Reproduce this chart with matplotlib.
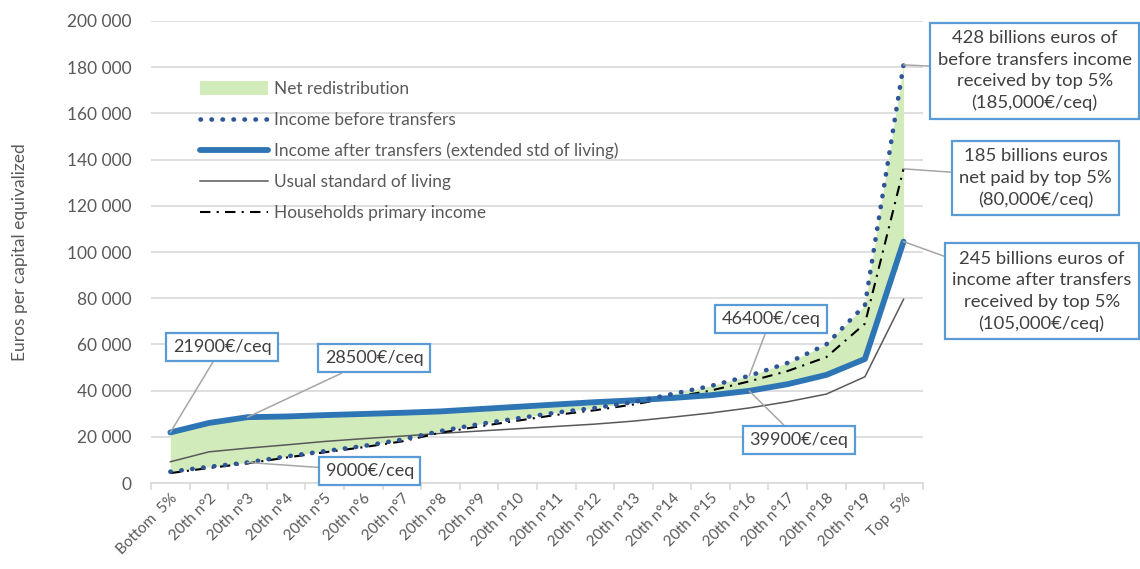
import matplotlib
matplotlib.use('Agg')
import matplotlib.pyplot as plt
import matplotlib.ticker as mticker
from matplotlib.patches import Patch
from matplotlib.lines import Line2D

plt.rcParams['font.family'] = ['Lato', 'DejaVu Sans']

grey_text = '#595959'
grid_grey = '#d9d9d9'
box_blue = '#5b9bd5'
leader_grey = '#a6a6a6'

categories = ['Bottom  5%'] + [f'20th n°{i}' for i in range(2, 20)] + ['Top  5%']

# values (euros per capita equivalized)
before_transfers = [4900, 7000, 8900, 11500, 13800, 16000, 18800, 22500, 25500, 28000,
                    30500, 32500, 35000, 38500, 42000, 46400, 52000, 60000, 77000, 181000]
after_transfers = [21900, 26000, 28500, 28800, 29400, 29900, 30400, 31000, 32000, 33000,
                   34000, 35000, 35800, 36800, 38000, 39900, 42800, 46800, 53700, 104500]
usual_std = [9200, 13500, 15100, 16500, 18000, 19200, 20300, 21500, 22500, 23500,
             24500, 25500, 26800, 28500, 30300, 32500, 35200, 38500, 46000, 79500]
primary_income = [4300, 6500, 8500, 11000, 13300, 15500, 18000, 21800, 24500, 27000,
                  29500, 31500, 34000, 37000, 40000, 44000, 48500, 54500, 69000, 136000]

x = list(range(len(categories)))

fig = plt.figure(figsize=(11.4, 5.69), dpi=100)
ax = fig.add_axes([0.1325, 0.1511, 0.677, 0.812])

green_fill = '#d2ebbb'
ax.fill_between(x, before_transfers, after_transfers, color=green_fill, lw=0, zorder=1)
ax.plot(x, usual_std, color=grey_text, lw=1.1, zorder=2)
ax.plot(x, primary_income, color='black', lw=1.5, linestyle=(0, (5, 3, 1, 3)), zorder=3)
ax.plot(x, after_transfers, color='#2e75b6', lw=4.2, solid_capstyle='round',
        solid_joinstyle='round', zorder=4)
ax.plot(x, before_transfers, color='#2f5597', lw=3.3, linestyle=(0, (0.1, 2.3)),
        dash_capstyle='round', zorder=5)

ax.set_xlim(-0.5, len(categories) - 0.5)
ax.set_ylim(0, 200000)
ax.yaxis.set_major_locator(mticker.MultipleLocator(20000))
ax.yaxis.set_major_formatter(mticker.FuncFormatter(lambda v, p: f'{v:,.0f}'.replace(',', ' ')))
ax.grid(axis='y', color=grid_grey, lw=1.2, zorder=0)
ax.set_axisbelow(True)
for key in 'left', 'right', 'top':
    ax.spines[key].set_visible(False)
ax.spines['bottom'].set_color(grid_grey)
ax.spines['bottom'].set_linewidth(1.2)

ax.set_xticks(x)
ax.set_xticklabels(categories, rotation=45, ha='right', rotation_mode='anchor')
ax.set_xticks([i - 0.5 for i in range(len(categories) + 1)], minor=True)
ax.tick_params(axis='x', which='major', length=0, pad=6, labelsize=11, labelcolor=grey_text)
ax.tick_params(axis='x', which='minor', length=5, width=1.2, color=grid_grey)
ax.tick_params(axis='y', length=0, pad=14, labelsize=12.5, labelcolor=grey_text)
ax.set_ylabel('Euros per capital equivalized', fontsize=12.5, color=grey_text, labelpad=28)

handles = [Patch(facecolor=green_fill, edgecolor='none'),
           Line2D([], [], color='#2f5597', lw=3.3, linestyle=(0, (0.1, 2.3)), dash_capstyle='round'),
           Line2D([], [], color='#2e75b6', lw=4.2, solid_capstyle='round'),
           Line2D([], [], color=grey_text, lw=1.1),
           Line2D([], [], color='black', lw=1.5, linestyle=(0, (5, 3, 1, 3)))]
labels = ['Net redistribution', 'Income before transfers',
          'Income after transfers (extended std of living)',
          'Usual standard of living', 'Households primary income']
leg = ax.legend(handles, labels, loc='upper left', bbox_to_anchor=(0.055, 0.885),
                frameon=False, fontsize=12.4, handlelength=3.9, handleheight=0.8,
                handletextpad=0.35, labelspacing=0.86, borderaxespad=0)
for t in leg.get_texts():
    t.set_color(grey_text)

arrow = dict(arrowstyle='-', color=leader_grey, lw=1.1, shrinkA=0, shrinkB=0)

def callout(text, idx, series, tx, ty, size=13, pad=0.35, spacing=1.22):
    box = dict(boxstyle=f'square,pad={pad}', fc='white', ec=box_blue, lw=1.6)
    ax.annotate(text, xy=(idx, series[idx]), xytext=(tx, ty), textcoords='data',
                ha='center', va='center', fontsize=size, color='#404040',
                multialignment='center', linespacing=spacing,
                bbox=box, arrowprops=arrow, annotation_clip=False, zorder=10)

callout('21900€/ceq', 0, after_transfers, 1.34, 58900)
callout('28500€/ceq', 2, after_transfers, 5.28, 54100)
callout('9000€/ceq', 2, before_transfers, 5.17, 5200)
callout('46400€/ceq', 15, before_transfers, 15.56, 71000)
callout('39900€/ceq', 15, after_transfers, 16.29, 18600)
callout('428 billions euros of\nbefore transfers income\nreceived by top 5%\n(185,000€/ceq)',
        19, before_transfers, 22.4, 178400, size=13.3, pad=0.4, spacing=1.42)
callout('185 billions euros\nnet paid by top 5%\n(80,000€/ceq)',
        19, primary_income, 22.42, 132000, size=13.3, pad=0.4, spacing=1.42)
callout('245 billions euros of\nincome after transfers\nreceived by top 5%\n(105,000€/ceq)',
        19, after_transfers, 22.58, 83000, size=13.3, pad=0.4, spacing=1.42)

fig.savefig('out.png', dpi=100)
